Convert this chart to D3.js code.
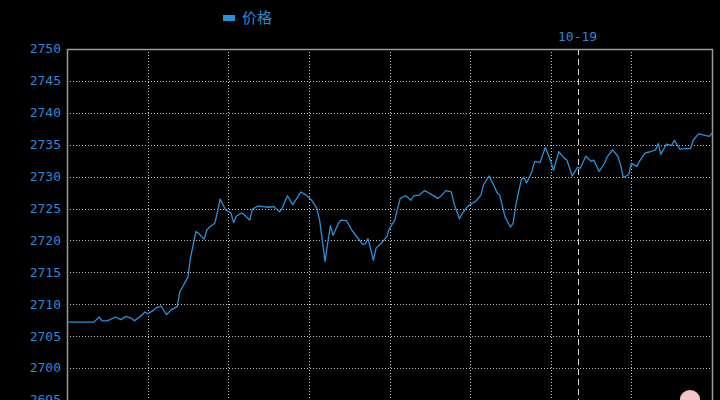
<!DOCTYPE html>
<html>
<head>
<meta charset="utf-8">
<script src="https://cdn.jsdelivr.net/npm/d3@7/dist/d3.min.js"></script>
<style>
html,body{margin:0;padding:0;background:#000;overflow:hidden;}
svg{display:block;}
</style>
</head>
<body>
<script>
// ---- data ----
const seriesName = "价格";
const markerLabel = "10-19";
const markerTime = 190;
const yTicks = [2695, 2700, 2705, 2710, 2715, 2720, 2725, 2730, 2735, 2740, 2745, 2750];
const xGridTimes = [0, 30, 60, 90, 120, 150, 180, 210, 240];
const times = [0,10,12,13,15,18,20,22,24,25,27,29,30,32,33,35,37,39,41,42,43,45,46,48,49,51,52,53,55,56,57,59,61,62,63,65,66,68,69,71,73,75,77,79,80,
82,84,86,87,89,91,92,93,94,95,96,97,98,99,101,102,104,106,108,110,111,112,114,115,117,119,120,122,123,124,126,128,129,131,133,134,136,138,139,141,143,144,146,147,149,151,152,154,155,157,159,160,
161,163,165,166,167,169,170,171,173,174,176,178,180,181,183,185,186,188,190,191,193,195,196,198,200,201,203,205,206,207,209,210,212,213,215,217,219,220,221,223,225,226,228,230,232,233,235,237,239,240];
const prices = [2707.2,2707.2,2708.0,2707.4,2707.4,2708.0,2707.6,2708.1,2707.8,2707.4,2708.0,2708.8,2708.5,2709.0,2709.4,2709.7,2708.4,2709.2,2709.6,2712.0,2712.7,2714.3,2717.4,2721.4,2721.1,2720.2,2721.6,2722.1,2722.7,2724.5,2726.5,2724.8,2724.3,2722.8,2723.8,2724.3,2724.0,2723.2,2724.9,2725.4,2725.3,2725.2,2725.3,2724.5,2725.0,
2727.0,2725.6,2726.9,2727.6,2727.1,2726.3,2725.7,2725.0,2723.2,2720.0,2716.7,2719.6,2722.3,2720.8,2722.7,2723.2,2723.1,2721.6,2720.5,2719.4,2719.5,2720.3,2716.9,2718.8,2719.6,2720.6,2721.9,2723.2,2725.0,2726.6,2727.0,2726.3,2727.0,2727.1,2727.8,2727.6,2727.1,2726.6,2726.9,2727.8,2727.6,2725.8,2723.4,2724.2,2725.3,2725.9,2726.1,2727.1,2728.7,2730.1,2728.5,2727.5,
2727.1,2723.7,2722.1,2722.7,2725.5,2729.5,2729.9,2729.0,2730.8,2732.4,2732.2,2734.6,2732.4,2731.0,2733.9,2732.9,2732.6,2730.1,2731.5,2731.3,2733.2,2732.4,2732.6,2730.8,2732.1,2733.1,2734.2,2733.2,2731.8,2729.9,2730.3,2732.1,2731.6,2732.4,2733.7,2733.9,2734.2,2735.2,2733.5,2735.1,2734.9,2735.7,2734.3,2734.4,2734.4,2735.7,2736.7,2736.5,2736.3,2736.8];

const data = times.map((t, i) => ({t, v: prices[i]}));

// ---- chart ----
const W = 720, H = 400;
const L = 67, R = 712, T = 49, B = 400;
const svg = d3.select("body").append("svg").attr("width", W).attr("height", H)
  .style("background", "#000");

const x = d3.scaleLinear().domain([0, 240]).range([L, R]);
const y = d3.scaleLinear().domain([2695, 2750]).range([B, T]);

const textColor = "#2a8ad4";
const lineColor = "#2b90da";
const gridColor = "#c8c8c8";
const mono = "'DejaVu Sans Mono', 'Liberation Mono', monospace";

// horizontal grid
svg.append("g").selectAll("line").data(yTicks.filter(d => d !== 2750)).join("line")
  .attr("x1", L).attr("x2", R)
  .attr("y1", d => Math.round(y(d)) + 0.5).attr("y2", d => Math.round(y(d)) + 0.5)
  .attr("stroke", gridColor).attr("stroke-width", 1).attr("stroke-dasharray", "1,2");

// vertical grid
svg.append("g").selectAll("line").data(xGridTimes.filter(d => d !== 0 && d !== 240)).join("line")
  .attr("x1", d => Math.round(x(d)) + 0.5).attr("x2", d => Math.round(x(d)) + 0.5)
  .attr("y1", T).attr("y2", H + 5)
  .attr("stroke", gridColor).attr("stroke-width", 1).attr("stroke-dasharray", "1,2");

// marker dashed line
svg.append("line")
  .attr("x1", Math.round(x(markerTime)) + 0.5).attr("x2", Math.round(x(markerTime)) + 0.5)
  .attr("y1", T).attr("y2", H + 5)
  .attr("stroke", "#e0e0e0").attr("stroke-width", 1).attr("stroke-dasharray", "6,4");

svg.append("text")
  .attr("x", x(markerTime)).attr("y", 41)
  .attr("text-anchor", "middle")
  .attr("fill", textColor).attr("font-family", mono).attr("font-size", 13)
  .text(markerLabel);

// border (top, left, right)
svg.append("path")
  .attr("d", `M${L + 0.5},${H + 5}V${T + 0.5}H${R + 0.5}V${H + 5}`)
  .attr("fill", "none").attr("stroke", "#9a9a9a").attr("stroke-width", 1.5);

// y axis labels
const yAxis = d3.axisLeft(y).tickValues(yTicks).tickSize(0).tickPadding(6)
  .tickFormat(d3.format("d"));
const gy = svg.append("g").attr("transform", `translate(${L},0)`).call(yAxis);
gy.select(".domain").remove();
gy.selectAll("text").attr("fill", textColor).attr("font-family", mono).attr("font-size", 13)
  .attr("dy", "0.3em");

// price line
const line = d3.line().x(d => x(d.t)).y(d => y(d.v));
svg.append("path").datum(data)
  .attr("d", line)
  .attr("fill", "none").attr("stroke", lineColor).attr("stroke-width", 1.3)
  .attr("stroke-linejoin", "round");

// legend
svg.append("rect").attr("x", 223).attr("y", 15).attr("width", 12).attr("height", 6)
  .attr("fill", lineColor);
svg.append("text").attr("x", 242).attr("y", 23)
  .attr("fill", textColor).attr("font-family", "'Noto Sans CJK SC', sans-serif").attr("font-size", 15)
  .text(seriesName);

// small pink decoration at bottom right
svg.append("ellipse").attr("cx", 690).attr("cy", 399).attr("rx", 10).attr("ry", 9)
  .attr("fill", "#f4c6c8");
</script>
</body>
</html>
